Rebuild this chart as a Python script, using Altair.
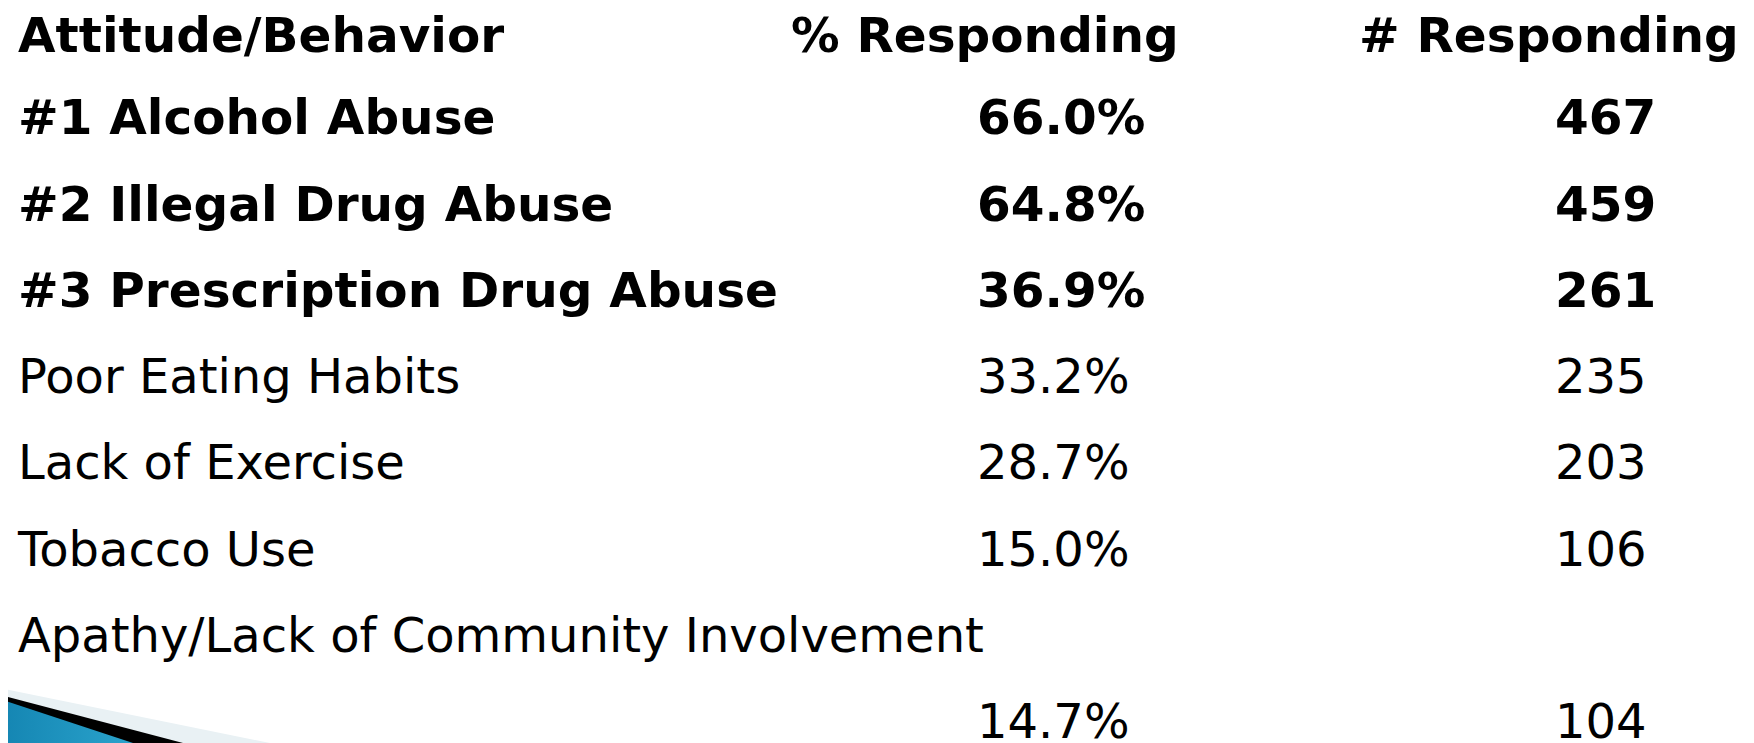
import altair as alt
import pandas as pd

# ---- data ----
headers = ["Attitude/Behavior", "% Responding", "# Responding"]
ranks = ["#1", "#2", "#3", "", "", "", ""]
behaviors = [
    "Alcohol Abuse",
    "Illegal Drug Abuse",
    "Prescription Drug Abuse",
    "Poor Eating Habits",
    "Lack of Exercise",
    "Tobacco Use",
    "Apathy/Lack of Community Involvement",
]
pct_values = [66.0, 64.8, 36.9, 33.2, 28.7, 15.0, 14.7]
count_values = [467, 459, 261, 235, 203, 106, 104]

# ---- layout constants ----
W, H = 1738, 735
FONT = "DejaVu Sans"
FS_BOLD = 48.5
FS_REG = 48
OFF = 8  # page margin

rows = []
rows.append({"row": 0, "col": "label", "text": headers[0], "bold": True})
rows.append({"row": 0, "col": "pct_h", "text": headers[1], "bold": True})
rows.append({"row": 0, "col": "count_h", "text": headers[2], "bold": True})
n = len(behaviors)
for i, (rk, name, p, c) in enumerate(zip(ranks, behaviors, pct_values, count_values)):
    label_row = i + 1
    # the last, long label wraps: its values sit on the following line
    value_row = label_row + 1 if i == n - 1 else label_row
    bold = rk != ""
    rows.append({"row": label_row, "col": "label",
                 "text": f"{rk} {name}" if rk else name, "bold": bold})
    rows.append({"row": value_row, "col": "pct", "text": f"{p:.1f}%", "bold": bold})
    rows.append({"row": value_row, "col": "count", "text": f"{c}", "bold": bold})
df = pd.DataFrame(rows)
df["header"] = df["row"] == 0

yenc = alt.Y("row:Q", scale=alt.Scale(domain=[0, 8], range=[48 - OFF, 738 - OFF],
                                     nice=False, zero=False), axis=None)

col_x = {"label": 18, "pct_h": 791, "count_h": 1359, "pct": 977, "count": 1555}

layers = []
for col, px in col_x.items():
    for bold in (True, False):
        for header in (True, False):
            sub = df[(df["col"] == col) & (df["bold"] == bold) & (df["header"] == header)]
            if sub.empty:
                continue
            layers.append(
                alt.Chart(sub).mark_text(
                    align="left", baseline="alphabetic", font=FONT,
                    fontSize=FS_BOLD if bold else FS_REG,
                    fontWeight="bold" if bold else "normal", color="#000000",
                    dy=4 if header else 0,
                ).encode(x=alt.value(px - OFF), y=yenc, text="text:N")
            )


# ---- decorative swoosh in the bottom-left corner ----
def tri(points, fill):
    pts = [(x - OFF, y - OFF) for x, y in points]
    xs = [p[0] for p in pts]
    ys = [p[1] for p in pts]
    cx = (min(xs) + max(xs)) / 2
    cy = (min(ys) + max(ys)) / 2
    s = max(max(xs) - min(xs), max(ys) - min(ys)) / 2
    path = "M " + " L ".join(f"{(x - cx) / s:.4f} {(y - cy) / s:.4f}" for x, y in pts) + " Z"
    return alt.Chart(pd.DataFrame({"a": [0]})).mark_point(
        shape=path, filled=True, fill=fill, opacity=1, strokeWidth=0, size=(2 * s) ** 2
    ).encode(x=alt.value(cx), y=alt.value(cy))


haze = tri([(0, 688), (270, 743), (0, 743)], "#e9f1f4")
black = tri([(0, 695), (183, 743), (0, 743)], "#000000")
blue = tri([(0, 699), (133, 743), (0, 743)],
           alt.Gradient(gradient="linear",
                        stops=[alt.GradientStop(color="#1485b2", offset=0),
                               alt.GradientStop(color="#2aa3cc", offset=1)],
                        x1=0, x2=1, y1=0, y2=0))

chart = alt.layer(haze, black, blue, *layers).properties(
    width=W, height=H, autosize=alt.AutoSizeParams(type="none"), padding=0,
    background="white",
).configure_view(stroke=None)

chart.save("out.html", embed_options={"renderer": "svg", "actions": False})
